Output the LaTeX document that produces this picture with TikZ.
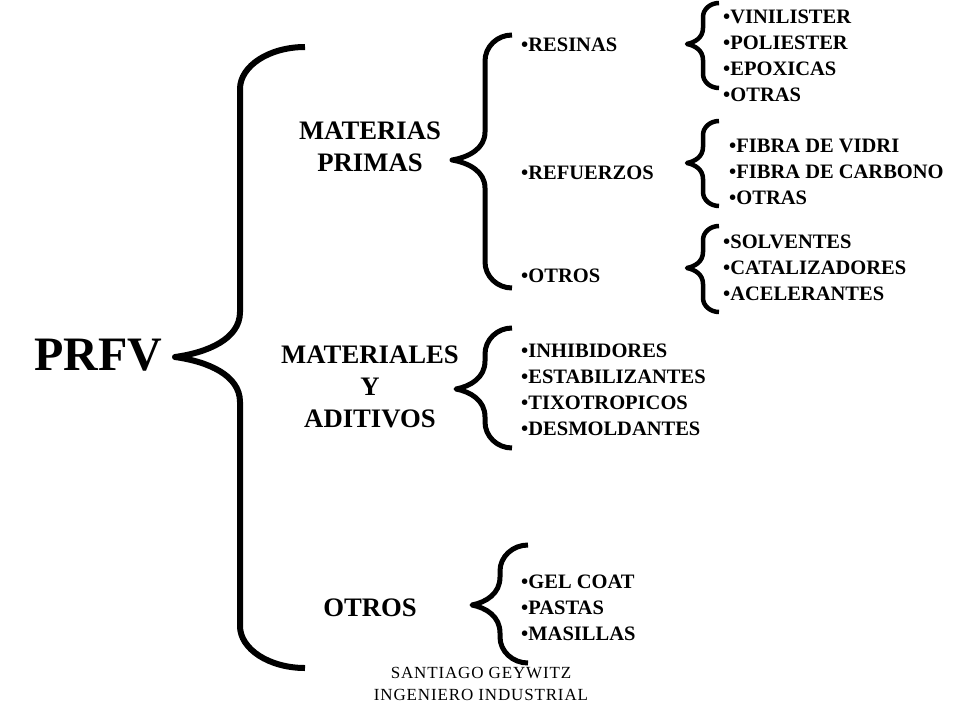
\documentclass[tikz,border=0pt]{standalone}
\usepackage{fontspec}
\setmainfont{Liberation Serif}
\usepackage{tikz}
\usetikzlibrary{positioning}
% curly brace: tip x, tip y, stem x, top y, bottom y, end x, end bend, tip bend
\newcommand{\curly}[9][]{%
  \draw[#1] (#7,#5) .. controls ({#7-0.55*(#7-#4)},#5) and (#4,{#5+0.45*#8}) .. (#4,{#5+#8})
    -- (#4,{#3-#9})
    .. controls (#4,{#3-0.4*#9}) and ({#2+0.5*(#4-#2)},{#3-0.1*#9}) .. (#2,#3)
    .. controls ({#2+0.5*(#4-#2)},{#3+0.1*#9}) and (#4,{#3+0.4*#9}) .. (#4,{#3+#9})
    -- (#4,{#6-#8})
    .. controls (#4,{#6-0.45*#8}) and ({#7-0.55*(#7-#4)},#6) .. (#7,#6);}
\newcommand{\bul}{\textbullet}
\tikzset{
  root/.style={font=\fontsize{48}{56}\selectfont\bfseries, inner sep=0pt},
  group/.style={font=\fontsize{26.7}{32}\selectfont\bfseries, align=center, inner sep=0pt},
  item/.style={font=\fontsize{20.5}{26}\selectfont\bfseries, align=left, inner sep=0pt, anchor=west},
  footer/.style={font=\fontsize{17}{22}\selectfont\addfontfeatures{LetterSpace=5}, align=center, inner sep=0pt},
  bigbrace/.style={line width=6pt, line join=round},
  midbrace/.style={line width=5pt, line join=round},
  smallbrace/.style={line width=4.5pt, line join=round}
}
\begin{document}
\begin{tikzpicture}[x=1pt, y=-1pt]
  \useasboundingbox (0,0) rectangle (960,720);
  % main topic
  \node[root] (prfv) at (98,355) {PRFV};
  \curly[bigbrace]{175}{357}{240}{47}{668}{305}{42}{45}
  % groups
  \node[group] (primas) at (370,147) {MATERIAS\\PRIMAS};
  \node[group] (aditivos) at (370,387) {MATERIALES\\Y\\ADITIVOS};
  \node[group] (otros) at (370,608) {OTROS};
  \curly[midbrace]{452}{160}{485}{35}{288}{512}{26}{28}
  \curly[midbrace]{456}{389}{485}{328}{448}{512}{26}{28}
  \curly[midbrace]{472}{605}{500}{545}{663}{528}{26}{28}
  % materias primas
  \node[item] (resinas) at (521,45) {\bul RESINAS};
  \node[item] (refuerzos) at (521,173) {\bul REFUERZOS};
  \node[item] (otrosmp) at (521,276) {\bul OTROS};
  \curly[smallbrace]{687}{44}{703}{3}{88}{719}{14}{16}
  \curly[smallbrace]{687}{163}{703}{121}{206}{719}{14}{16}
  \curly[smallbrace]{687}{268}{703}{226}{312}{719}{14}{16}
  \node[item] (resinaslist) at (723,56) {\bul VINILISTER\\\bul POLIESTER\\\bul EPOXICAS\\\bul OTRAS};
  \node[item] (fibraslist) at (729,172) {\bul FIBRA DE VIDRI\\\bul FIBRA DE CARBONO\\\bul OTRAS};
  \node[item] (otroslist) at (723,268) {\bul SOLVENTES\\\bul CATALIZADORES\\\bul ACELERANTES};
  % materiales y aditivos
  \node[item] (aditivoslist) at (521,390) {\bul INHIBIDORES\\\bul ESTABILIZANTES\\\bul TIXOTROPICOS\\\bul DESMOLDANTES};
  % otros
  \node[item] (pastaslist) at (521,608) {\bul GEL COAT\\\bul PASTAS\\\bul MASILLAS};
  % author
  \node[footer] (autor) at (481,684) {SANTIAGO GEYWITZ\\INGENIERO INDUSTRIAL};
\end{tikzpicture}
\end{document}
